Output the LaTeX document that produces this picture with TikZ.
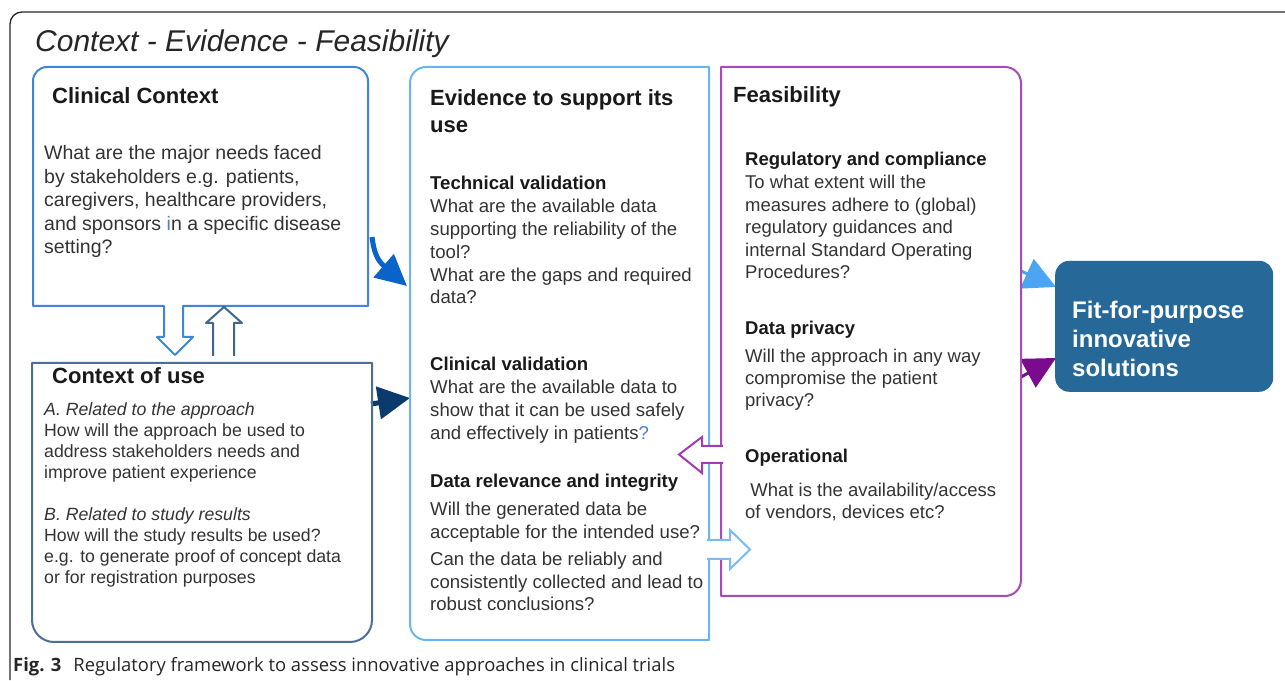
\documentclass[tikz,border=0pt]{standalone}
\usepackage{fontspec}
\setmainfont{Liberation Sans}
\newfontfamily\capfont{Open Sans}
\usetikzlibrary{arrows.meta}
\definecolor{ccblue}{HTML}{3F86D6}
\definecolor{cublue}{HTML}{4B6F97}
\definecolor{evblue}{HTML}{6AB4F2}
\definecolor{fepurp}{HTML}{A64BB8}
\definecolor{upblue}{HTML}{3F6590}
\definecolor{curvblue}{HTML}{0A63C9}
\definecolor{navyarr}{HTML}{0A3A6E}
\definecolor{hpurp}{HTML}{A23BB0}
\definecolor{hblue}{HTML}{78BCF5}
\definecolor{fitblue}{HTML}{4AA6F3}
\definecolor{fitpurp}{HTML}{7A0A8E}
\definecolor{fitfill}{HTML}{266897}
\definecolor{txtgray}{HTML}{333333}
\definecolor{qblue}{HTML}{4A7FD0}
\newcommand\blk[1]{\begin{tabular}[t]{@{}l@{}}#1\end{tabular}}
\tikzset{
  txt/.style={anchor=base west, inner sep=0pt, text=txtgray},
  ttl/.style={anchor=base west, inner sep=0pt, text=black!90, font=\bfseries\fontsize{22}{27}\selectfont},
  boxline/.style={line width=2pt, line join=round},
  hollow/.style={line width=2pt, fill=white, line join=miter},
  solidarr/.style={line width=5pt},
}
\begin{document}
\begin{tikzpicture}[x=1pt,y=1pt]
\useasboundingbox (0,0) rectangle (1285,680);
% outer frame
\draw[line width=1.3pt, black!85] (10,0) -- (10,656) arc[start angle=180,end angle=90,radius=12] -- (1285,668);
\node[txt, text=black!85, font=\itshape\fontsize{30}{34}\selectfont] (title) at (35,628) {Context - Evidence - Feasibility};

% coordinates for connectors
\coordinate (ccR) at (372,443);
\coordinate (evL1) at (407,394);
\coordinate (cuR) at (371,276);
\coordinate (evL2) at (410,282);
\coordinate (feR1) at (1021,409);
\coordinate (fitL1) at (1056,393);
\coordinate (feR2) at (1021,303);
\coordinate (fitL2) at (1056,322);

% solid arrows
\draw[solidarr, curvblue, -{Triangle[length=31pt,width=30pt]}] (ccR) .. controls (374,428) and (377,420) .. (evL1);
\draw[solidarr, navyarr, -{Triangle[length=32pt,width=32pt]}] (cuR) -- (evL2);
\draw[line width=3pt, fitblue, -{Triangle[length=32pt,width=32pt]}] (feR1) -- (fitL1);
\draw[line width=3pt, fitpurp, -{Triangle[length=32pt,width=32pt]}] (feR2) -- (fitL2);

% Clinical Context box with down arrow
\draw[boxline, ccblue, fill=white] (164,374) -- (33,374) -- (33,599) arc[start angle=180,end angle=90,radius=14]
  -- (354,613) arc[start angle=90,end angle=0,radius=14] -- (368,374) -- (183,374)
  -- (183,343) -- (193,343) -- (175,325) -- (157,343) -- (164,343) -- cycle;
% up arrow
\draw[boxline, upblue] (213,324) -- (213,357) -- (206,357) -- (224,373) -- (242,357) -- (234,357) -- (234,324);
% Context of use box
\draw[boxline, cublue] (32,317) -- (372,317) -- (372,60) arc[start angle=0,end angle=-90,radius=22]
  -- (54,38) arc[start angle=270,end angle=180,radius=22] -- cycle;
% Evidence box
\draw[boxline, evblue] (709,613) -- (426,613) arc[start angle=90,end angle=180,radius=16]
  -- (410,56) arc[start angle=180,end angle=270,radius=16] -- (709,40) -- cycle;
% Feasibility box
\draw[boxline, fepurp] (721,613) -- (1005,613) arc[start angle=90,end angle=0,radius=16]
  -- (1021,100) arc[start angle=0,end angle=-90,radius=16] -- (721,84) -- cycle;

% hollow arrows between evidence and feasibility
\fill[white] (723,234) -- (702,234) -- (702,243) -- (679,225.5) -- (702,207) -- (702,217) -- (723,217) -- cycle;
\draw[hollow, hpurp, fill=none] (723,234) -- (702,234) -- (702,243) -- (679,225.5) -- (702,207) -- (702,217) -- (723,217);
\fill[white] (707,140) -- (730,140) -- (730,150) -- (750,130.5) -- (730,111) -- (730,121) -- (707,121) -- cycle;
\draw[hollow, hblue, fill=none] (707,140) -- (730,140) -- (730,150) -- (750,130.5) -- (730,111) -- (730,121) -- (707,121);

% Fit-for-purpose box
\node[fill=fitfill, rounded corners=14pt, minimum width=218pt, minimum height=131pt, anchor=south west, inner sep=0pt] (fit) at (1055,288) {};
\node[anchor=base west, inner sep=0pt, text=white, font=\bfseries\fontsize{24}{29}\selectfont] (fittxt) at (1072,361) {\blk{Fit-for-purpose\\innovative\\solutions}};

% Clinical Context text
\node[ttl] (cct) at (52,576) {Clinical Context};
\node[txt, font=\fontsize{19.5}{23.5}\selectfont] (ccb) at (44,520) {\blk{What are the major needs faced\\by stakeholders e.g. patients,\\caregivers, healthcare providers,\\and sponsors \textcolor{qblue}{i}n a specific disease\\setting?}};

% Context of use text
\node[ttl] (cut) at (52,296) {Context of use};
\node[txt, font=\fontsize{17.7}{21}\selectfont] (cub) at (44,264) {\blk{\textit{A. Related to the approach}\\How will the approach be used to\\address stakeholders needs and\\improve patient experience\\ \\\textit{B. Related to study results}\\How will the study results be used?\\e.g. to generate proof of concept data\\or for registration purposes}};

% Evidence text
\node[ttl] (evt) at (430,574) {\blk{Evidence to support its\\use}};
\node[txt, font=\fontsize{18.6}{22.8}\selectfont] (evtech) at (430,490) {\blk{\textcolor{black!90}{\textbf{Technical validation}}\\What are the available data\\supporting the reliability of the\\tool?\\What are the gaps and required\\data?}};
\node[txt, font=\fontsize{18.6}{22.7}\selectfont] (evclin) at (430,309) {\blk{\textcolor{black!90}{\textbf{Clinical validation}}\\What are the available data to\\show that it can be used safely\\and effectively in patients\textcolor{qblue}{?}}};
\node[txt, text=black!90, font=\bfseries\fontsize{18.6}{22.5}\selectfont] (evdrt) at (430,192) {Data relevance and integrity};
\node[txt, font=\fontsize{18.6}{22.5}\selectfont] (evdr1) at (430,164) {\blk{Will the generated data be\\acceptable for the intended use?}};
\node[txt, font=\fontsize{18.6}{22.5}\selectfont] (evdr2) at (430,114) {\blk{Can the data be reliably and\\consistently collected and lead to\\robust conclusions?}};

% Feasibility text
\node[ttl] (fet) at (733,577) {Feasibility};
\node[txt, font=\fontsize{18.5}{22.6}\selectfont] (ferc) at (745,514) {\blk{\textcolor{black!90}{\textbf{Regulatory and compliance}}\\To what extent will the\\measures adhere to (global)\\regulatory guidances and\\internal Standard Operating\\Procedures?}};
\node[txt, text=black!90, font=\bfseries\fontsize{18.5}{22}\selectfont] (fedpt) at (745,345) {Data privacy};
\node[txt, font=\fontsize{18.5}{22}\selectfont] (fedp) at (745,317) {\blk{Will the approach in any way\\compromise the patient\\privacy?}};
\node[txt, text=black!90, font=\bfseries\fontsize{18.5}{22}\selectfont] (feopt) at (745,217) {Operational};
\node[txt, font=\fontsize{18.5}{21.5}\selectfont] (feop) at (745,183) {\blk{\ What is the availability/access\\of vendors, devices etc?}};

% caption
\node[anchor=base west, inner sep=0pt, text=black!85, font=\capfont\fontsize{18.4}{22}\selectfont] (cap) at (13,9) {\textbf{Fig. 3}\hspace{12pt}Regulatory framework to assess innovative approaches in clinical trials};
\end{tikzpicture}
\end{document}
